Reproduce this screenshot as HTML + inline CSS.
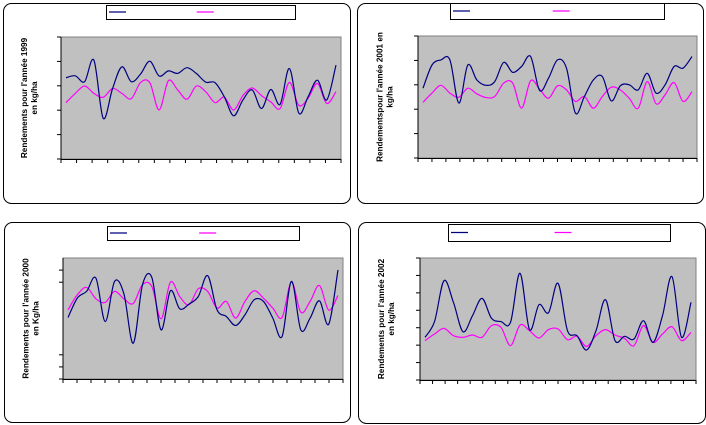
<!DOCTYPE html>
<html><head><meta charset="utf-8"><style>
html,body{margin:0;padding:0;background:#fff;width:706px;height:425px;overflow:hidden}
svg{display:block}
</style></head><body>
<svg id="s" width="706" height="425" xmlns="http://www.w3.org/2000/svg"></svg>
<script>
const blue1999=[3.33,3.41,3.17,4.05,1.67,2.89,3.78,3.17,3.48,4.01,3.40,3.61,3.51,3.74,3.51,3.15,3.13,2.55,1.77,2.42,2.83,2.07,2.85,2.24,3.71,1.88,2.55,3.23,2.42,3.85];
const pink1999=[2.31,2.69,2.99,2.69,2.53,2.89,2.69,2.47,3.13,3.13,2.01,3.21,2.83,2.45,2.99,2.76,2.31,2.53,2.01,2.60,2.91,2.60,2.34,2.07,3.14,2.20,2.49,3.10,2.28,2.76];
const blue2001=[2.86,3.81,4.02,4.02,2.25,3.81,3.20,2.98,3.13,3.92,3.51,3.75,4.16,2.77,3.27,4.02,3.68,1.84,2.52,3.20,3.34,2.34,2.96,3.00,2.79,3.47,2.66,3.00,3.75,3.68,4.16];
const pink2001=[2.28,2.66,2.98,2.66,2.49,2.86,2.63,2.48,2.52,3.07,3.07,2.04,3.17,2.82,2.45,2.96,2.79,2.32,2.52,2.04,2.52,2.90,2.79,2.45,2.04,3.13,2.22,2.59,3.09,2.32,2.72];
const blue2000=[5.08,6.69,7.24,8.34,4.75,8.07,7.04,2.96,7.79,8.40,4.06,7.29,5.80,6.19,6.82,8.54,5.72,5.17,4.42,5.30,6.55,6.41,5.03,3.51,8.07,4.06,5.03,6.46,4.53,9.01];
const pink2000=[5.72,6.96,7.57,6.63,6.33,7.24,6.63,6.24,7.79,7.65,4.97,8.01,6.82,6.13,7.46,7.24,5.86,6.41,5.03,6.41,7.29,6.68,5.86,5.08,8.01,5.52,6.41,7.73,5.69,6.91];
const blue2002=[2.45,3.35,5.70,4.44,2.77,3.69,4.68,3.54,3.35,3.31,6.12,2.89,4.32,3.86,5.55,2.83,2.54,1.72,2.83,4.61,2.26,2.51,2.35,3.40,2.16,3.69,5.93,2.45,4.46];
const pink2002=[2.26,2.64,2.96,2.54,2.45,2.58,2.45,3.12,3.02,1.97,3.15,2.83,2.41,2.89,2.93,2.31,2.51,1.93,2.54,2.89,2.58,2.39,1.97,3.12,2.16,2.64,3.06,2.26,2.73];
const yTitles=[["Rendements pour l'année 1999","en kg/ha"],["Rendementspour l'année 2001 en","kg/ha"],["Rendements pour l'année 2000","en Kg/ha"],["Rendements pour l'année 2002","en kg/ha"]];

const NS="http://www.w3.org/2000/svg";
const svg=document.getElementById('s');
function mk(tag,attrs,parent){const e=document.createElementNS(NS,tag);for(const k in attrs)e.setAttribute(k,attrs[k]);(parent||svg).appendChild(e);return e;}
function smooth(pts){let d="M"+pts[0][0]+","+pts[0][1];for(let i=0;i<pts.length-1;i++){const p0=pts[i-1]||pts[i],p1=pts[i],p2=pts[i+1],p3=pts[i+2]||p2;const c1x=p1[0]+(p2[0]-p0[0])/6,c1y=p1[1]+(p2[1]-p0[1])/6,c2x=p2[0]-(p3[0]-p1[0])/6,c2y=p2[1]-(p3[1]-p1[1])/6;d+=` C${c1x.toFixed(1)},${c1y.toFixed(1)} ${c2x.toFixed(1)},${c2y.toFixed(1)} ${p2[0].toFixed(1)},${p2[1].toFixed(1)}`;}return d;}

const panels=[
 {b:[3,3,347,200],p:[61,37,341,159],lg:[106,5,295,19],max:5,yt:[0,1,2,3,4,5],blue:blue1999,pink:pink1999,t:0,tx:18},
 {b:[357,3,346,200],p:[418,36,697,158],lg:[450,3,664,19],max:5,yt:[0,1,2,3,4,5],blue:blue2001,pink:pink2001,t:1,tx:20},
 {b:[4,222,346,200],p:[63,258,343,379],lg:[107,226,299,240],max:10,yt:[0,1,2,8,9],blue:blue2000,pink:pink2000,t:2,tx:20},
 {b:[358,222,347,201],p:[420,258,696,380],lg:[448,224,670,241],max:7,yt:[0,1,2,3,4,5,6,7],blue:blue2002,pink:pink2002,t:3,tx:22}
];
panels.forEach((P,i)=>{
 const g=mk('g',{});
 
 
 const fr=mk('rect',{x:P.b[0]+0.5,y:P.b[1]+0.5,width:P.b[2],height:P.b[3],rx:8,fill:'#fff',stroke:'#000','stroke-width':1},g);
 
 
 const [x0,y0,x1,y1]=P.p;
 const pa=mk('rect',{x:x0,y:y0,width:x1-x0,height:y1-y0,fill:'#c0c0c0',stroke:'#808080','stroke-width':1},g);
 
 
 const yS=v=>y1-(v/P.max)*(y1-y0);
 P.yt.forEach(v=>{const t=mk('line',{x1:x0-4,x2:x0,y1:yS(v),y2:yS(v),stroke:'#000'},g);});
 mk('line',{x1:x0,x2:x0,y1:y0,y2:y1,stroke:'#000'},g);
 mk('line',{x1:x0,x2:x1,y1:y1+0.5,y2:y1+0.5,stroke:'#000'},g);
 for(let k=0;k<=P.tx;k++){const x=x0+k*(x1-x0)/P.tx;const t=mk('line',{x1:x,x2:x,y1:y1,y2:y1+4,stroke:'#000'},g);}
 [['pink','#ff00ff','pink-series'],['blue','#000080','blue-series']].forEach(([k,c,n])=>{
  const arr=P[k];const n1=arr.length;
  const pts=arr.map((v,j)=>[x0+5+j*(x1-x0-10)/(n1-1),yS(v)]);
  const pth=mk('path',{d:smooth(pts),fill:'none',stroke:c,'stroke-width':1.2},g);
  
  
 });
 const [lx0,ly0,lx1,ly1]=P.lg;
 const lg=mk('g',{},g);
 
 
 mk('rect',{x:lx0+0.5,y:ly0+0.5,width:lx1-lx0,height:ly1-ly0,fill:'#fff',stroke:'#000'},lg);
 const ly=(ly0+ly1)/2;
 const w=lx1-lx0;
 mk('line',{x1:lx0+3,x2:lx0+20,y1:ly,y2:ly,stroke:'#000080','stroke-width':1.3},lg);
 mk('line',{x1:lx0+w*0.48,x2:lx0+w*0.48+17,y1:ly,y2:ly,stroke:'#ff00ff','stroke-width':1.3},lg);
 const tx=(P.b[0]+x0)/2-2, ty=(y0+y1)/2;
 const tt=mk('text',{x:0,y:0,transform:`translate(${tx},${ty}) rotate(-90)`,'text-anchor':'middle','font-family':'Liberation Sans, sans-serif','font-size':'8.2','font-weight':'bold',fill:'#000'},g);
 
 
 const a=mk('tspan',{x:0,dy:-3},tt);a.textContent=yTitles[P.t][0];
 const b=mk('tspan',{x:0,dy:10},tt);b.textContent=yTitles[P.t][1];
});
</script>
</body></html>
